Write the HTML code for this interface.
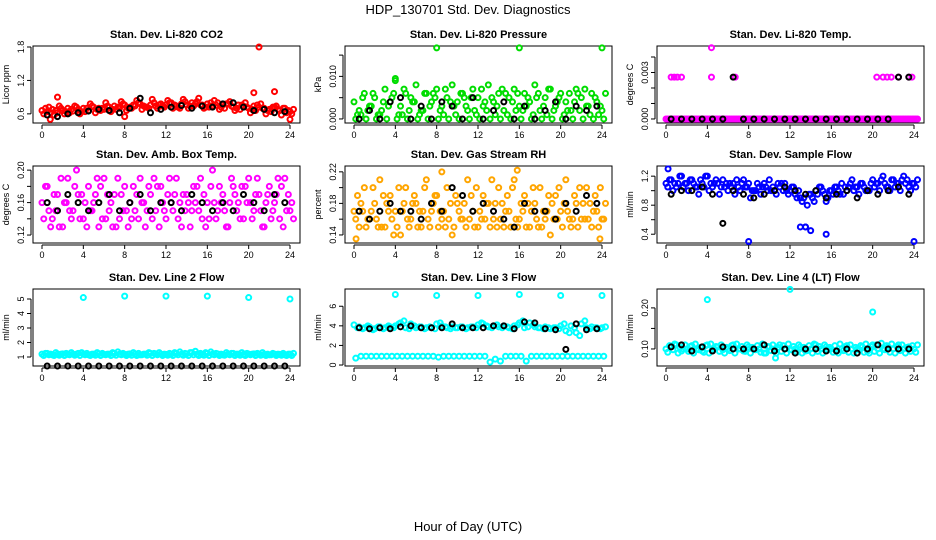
<!DOCTYPE html>
<html><head><meta charset="utf-8"><style>
body{margin:0;background:#fff}
svg{display:block;font-family:"Liberation Sans",Arial,sans-serif}
</style></head><body>
<svg id="chart" width="936" height="540" viewBox="0 0 936 540" xmlns="http://www.w3.org/2000/svg">
<rect width="936" height="540" fill="#fff"/>
<text x="468" y="14" text-anchor="middle" font-size="13">HDP_130701  Std. Dev. Diagnostics</text>
<text x="468" y="531" text-anchor="middle" font-size="13">Hour of Day (UTC)</text>
<g id="panels"></g>
</svg>
<script>
const xTicks = [0,4,8,12,16,20,24];
// Panel 1: CO2
const co2A = [0.66,0.64,0.68,0.62,0.66,0.7,0.65,0.68,0.7,0.66,0.72,0.7,0.68,0.72,0.74,0.7,0.76,0.72,0.74,0.78,0.72,0.76,0.74,0.78,0.76,0.8,0.74,0.78,0.76,0.8,0.82,0.76,0.78,0.74,0.8,0.76,0.78,0.72,0.76,0.74,0.7,0.74,0.72,0.7,0.68,0.72,0.66,0.7,0.64];
const co2B = [0.6,0.72,0.58,0.74,0.6,0.62,0.74,0.6,0.64,0.78,0.62,0.66,0.8,0.64,0.68,0.82,0.66,0.7,0.84,0.68,0.72,0.86,0.7,0.74,0.84,0.7,0.72,0.86,0.7,0.74,0.88,0.7,0.72,0.84,0.68,0.7,0.82,0.66,0.68,0.8,0.62,0.66,0.78,0.6,0.64,0.74,0.58,0.62,0.6];
const co2C = [0.7,0.62,0.66,0.7,0.64,0.68,0.72,0.64,0.7,0.74,0.68,0.7,0.74,0.68,0.72,0.78,0.7,0.76,0.8,0.74,0.7,0.8,0.76,0.72,0.8,0.76,0.7,0.82,0.74,0.78,0.76,0.72,0.8,0.76,0.72,0.78,0.74,0.7,0.76,0.72,0.68,0.76,0.7,0.66,0.72,0.68,0.7,0.66,0.68];
const co2OutH = [1.5,21,20.5,22.5,0.8,24,8];
const co2OutV = [0.9,1.8,0.98,1.0,0.5,0.5,0.55];
const co2Black = [0.58,0.55,0.6,0.62,0.65,0.68,0.66,0.62,0.7,0.88,0.62,0.68,0.72,0.75,0.7,0.74,0.72,0.78,0.8,0.72,0.66,0.68,0.62,0.64];
// Panel 2: pressure
const presA = [0.004,0.002,0.006,0.003,0.005,0.001,0.007,0.004,0.009,0.003,0.006,0.005,0.008,0.002,0.006,0.004,0.007,0.003,0.005,0.008,0.004,0.006,0.002,0.007,0.005,0.003,0.008,0.004,0.006,0.002,0.005,0.007,0.003,0.006,0.004,0.008,0.002,0.005,0.007,0.003,0.006,0.004,0.002,0.007,0.005,0.003,0.006,0.004,0.002];
const presB = [0,0.001,0,0.003,0,0.002,0,0.005,0,0.001,0,0.004,0,0.002,0,0.006,0,0.001,0,0.003,0,0.005,0,0.002,0,0.004,0,0.001,0,0.006,0,0.002,0,0.003,0,0.005,0,0.001,0,0.004,0,0.002,0,0.006,0,0.003,0,0.001,0];
const presC = [0.001,0.005,0.002,0.006,0.001,0.004,0.003,0.006,0.001,0.007,0.002,0.004,0.001,0.006,0.003,0.005,0.002,0.007,0.004,0.001,0.006,0.003,0.005,0.001,0.007,0.002,0.005,0.003,0.007,0.001,0.004,0.006,0.002,0.005,0.001,0.006,0.003,0.007,0.002,0.005,0.001,0.006,0.004,0.002,0.007,0.001,0.005,0.003,0.006];
const presOutH = [8,16,24,4];
const presOutV = [0.0167,0.0167,0.0167,0.0095];
const presBlack = [0,0.002,0,0.004,0.005,0,0.003,0,0.004,0.003,0,0.005,0,0.002,0.004,0,0.003,0,0.002,0.004,0,0.003,0.002,0.003];
// Panel 3: Li-820 temp
const tempA = [0,0,0,0,0,0,0,0,0,0,0,0,0,0,0,0,0,0,0,0,0,0,0,0,0,0,0,0,0,0,0,0,0,0,0,0,0,0,0,0,0,0,0,0,0,0,0,0,0];
const tempB = [0,0,0,0,0,0,0,0,0,0,0,0,0,0,0,0,0,0,0,0,0,0,0,0,0,0,0,0,0,0,0,0,0,0,0,0,0,0,0,0,0,0,0,0,0,0,0,0,0];
const tempC = [0,0,0,0,0,0,0,0,0,0,0,0,0,0,0,0,0,0,0,0,0,0,0,0,0,0,0,0,0,0,0,0,0,0,0,0,0,0,0,0,0,0,0,0,0,0,0,0,0];
const tempOutH = [0.5,0.8,1.1,1.5,4.4,4.4,6.7,20.4,21,21.4,21.8,22.5,23.5,23.8];
const tempOutV = [0.0027,0.0027,0.0027,0.0027,0.0027,0.0046,0.0027,0.0027,0.0027,0.0027,0.0027,0.0027,0.0027,0.0027];
const tempBlack = [0,0,0,0,0,0,0.0027,0,0,0,0,0,0,0,0,0,0,0,0,0,0,0,0.0027,0.0027];
// Panel 4: amb box temp
const ambA = [0.16,0.18,0.14,0.17,0.13,0.19,0.15,0.17,0.14,0.18,0.16,0.13,0.19,0.15,0.17,0.14,0.18,0.16,0.15,0.19,0.13,0.17,0.15,0.18,0.14,0.16,0.19,0.13,0.17,0.15,0.18,0.14,0.16,0.2,0.15,0.17,0.13,0.18,0.16,0.14,0.19,0.15,0.17,0.13,0.18,0.16,0.14,0.19,0.15];
const ambB = [0.14,0.15,0.17,0.13,0.16,0.15,0.18,0.14,0.16,0.15,0.17,0.18,0.14,0.16,0.13,0.17,0.15,0.14,0.17,0.16,0.15,0.14,0.18,0.16,0.17,0.15,0.14,0.17,0.16,0.18,0.15,0.17,0.14,0.16,0.18,0.15,0.16,0.17,0.14,0.18,0.16,0.17,0.15,0.16,0.14,0.17,0.18,0.15,0.16];
const ambC = [0.18,0.13,0.15,0.19,0.16,0.14,0.2,0.17,0.13,0.15,0.19,0.14,0.17,0.13,0.19,0.15,0.13,0.18,0.14,0.16,0.18,0.19,0.13,0.15,0.19,0.17,0.16,0.15,0.13,0.16,0.19,0.13,0.18,0.14,0.16,0.13,0.19,0.15,0.18,0.16,0.14,0.19,0.13,0.17,0.15,0.19,0.13,0.17,0.14];
const ambOutH = [];
const ambOutV = [];
const ambBlack = [0.16,0.15,0.17,0.16,0.15,0.16,0.17,0.15,0.16,0.17,0.15,0.16,0.16,0.15,0.17,0.16,0.15,0.16,0.15,0.17,0.16,0.15,0.17,0.16];
// Panel 5: gas stream RH
const rhA = [0.17,0.15,0.2,0.16,0.18,0.21,0.15,0.19,0.17,0.14,0.2,0.16,0.18,0.15,0.21,0.17,0.19,0.16,0.2,0.14,0.18,0.16,0.21,0.17,0.15,0.19,0.18,0.16,0.2,0.15,0.17,0.21,0.16,0.19,0.15,0.18,0.2,0.16,0.14,0.19,0.17,0.21,0.15,0.18,0.16,0.2,0.15,0.17,0.16];
const rhB = [0.16,0.18,0.15,0.17,0.16,0.15,0.18,0.16,0.15,0.17,0.16,0.18,0.15,0.17,0.16,0.18,0.15,0.17,0.16,0.15,0.17,0.18,0.16,0.15,0.17,0.16,0.15,0.18,0.16,0.17,0.15,0.16,0.18,0.15,0.17,0.16,0.15,0.17,0.18,0.16,0.15,0.17,0.16,0.15,0.18,0.16,0.17,0.15,0.16];
const rhC = [0.19,0.17,0.16,0.2,0.15,0.19,0.17,0.14,0.2,0.18,0.15,0.19,0.17,0.2,0.15,0.19,0.17,0.15,0.18,0.19,0.16,0.15,0.19,0.2,0.16,0.18,0.21,0.15,0.18,0.19,0.2,0.15,0.17,0.18,0.2,0.15,0.17,0.19,0.16,0.2,0.18,0.16,0.19,0.2,0.16,0.18,0.19,0.2,0.18];
const rhOutH = [0.2,8.5,15.8,23.8];
const rhOutV = [0.135,0.22,0.222,0.135];
const rhBlack = [0.17,0.16,0.17,0.18,0.17,0.17,0.16,0.18,0.17,0.2,0.19,0.17,0.18,0.17,0.16,0.15,0.18,0.17,0.17,0.16,0.18,0.17,0.19,0.18];
// Panel 6: sample flow
const sfA = [1.1,1.15,1.05,1.2,1.1,1.15,1.05,1.1,1.2,1.05,1.1,1.15,1.0,1.1,1.05,1.15,1.1,1.0,1.05,1.1,1.15,1.0,1.05,1.1,1.0,0.95,0.9,0.5,0.95,1.0,1.05,0.85,1.0,1.05,1.1,1.0,1.15,1.05,1.1,1.0,1.15,1.1,1.2,1.05,1.15,1.1,1.2,1.05,1.1];
const sfB = [1.05,1.0,1.1,1.05,1.0,1.1,0.95,1.05,1.0,1.1,0.95,1.05,1.1,0.95,1.0,1.05,0.9,1.0,0.95,1.05,1.0,0.95,1.1,1.0,1.05,0.9,0.85,0.8,0.9,0.95,1.0,0.9,0.95,1.0,0.95,1.05,1.0,0.95,1.05,1.0,1.05,1.0,1.1,1.0,1.05,1.0,1.1,1.0,1.05];
const sfC = [1.15,1.1,1.2,1.1,1.15,1.05,1.15,1.2,1.1,1.15,1.05,1.1,1.05,1.15,1.1,1.05,1.0,1.1,1.05,1.0,1.05,1.1,1.0,0.95,1.05,1.0,0.9,0.95,0.85,1.05,0.95,1.0,1.05,0.95,1.05,1.1,1.05,1.1,1.0,1.1,1.1,1.15,1.05,1.15,1.1,1.15,1.15,1.1,1.15];
const sfOutH = [0.2,8,24,13.5,14,15.5,13];
const sfOutV = [1.3,0.3,0.3,0.5,0.45,0.4,0.5];
const sfBlack = [0.95,1.0,1.0,1.05,0.95,0.55,1.0,0.95,0.9,0.95,1.0,1.05,1.0,0.95,1.0,0.9,0.95,1.0,0.9,1.0,0.95,1.0,1.05,0.95];
// Panel 7: line 2 flow
const l2A = [1.2,1.25,1.15,1.2,1.22,1.18,1.2,1.25,1.2,1.15,1.2,1.22,1.18,1.2,1.25,1.2,1.18,1.22,1.2,1.15,1.2,1.25,1.22,1.2,1.18,1.2,1.25,1.2,1.22,1.3,1.2,1.18,1.25,1.2,1.22,1.15,1.2,1.25,1.2,1.18,1.2,1.22,1.2,1.18,1.15,1.2,1.18,1.15,1.2];
const l2B = [1.1,1.15,1.1,1.12,1.1,1.15,1.12,1.1,1.15,1.1,1.12,1.1,1.15,1.1,1.12,1.15,1.1,1.12,1.1,1.15,1.12,1.1,1.15,1.1,1.12,1.1,1.15,1.12,1.1,1.15,1.1,1.12,1.1,1.15,1.1,1.12,1.15,1.1,1.12,1.1,1.15,1.1,1.12,1.1,1.15,1.1,1.12,1.1,1.1];
const l2C = [1.25,1.2,1.3,1.2,1.25,1.3,1.2,1.3,1.25,1.2,1.3,1.25,1.2,1.3,1.35,1.25,1.2,1.3,1.25,1.2,1.3,1.25,1.3,1.2,1.25,1.3,1.35,1.25,1.3,1.4,1.25,1.3,1.35,1.25,1.2,1.3,1.25,1.2,1.3,1.25,1.2,1.25,1.3,1.2,1.25,1.2,1.25,1.2,1.25];
const l2OutH = [4,8,12,16,20,24];
const l2OutV = [5.1,5.2,5.2,5.2,5.1,5.0];
const l2Black = [0.38,0.38,0.38,0.38,0.38,0.38,0.38,0.38,0.38,0.38,0.38,0.38,0.38,0.38,0.38,0.38,0.38,0.38,0.38,0.38,0.38,0.38,0.38,0.38];
// Panel 8: line 3 flow
const l3A = [4.1,3.9,3.8,3.9,3.7,3.9,3.8,3.9,4.0,4.3,3.8,4.2,3.8,3.9,3.8,3.8,4.2,4.0,3.8,3.9,3.8,3.9,3.8,3.9,4.1,4.2,3.9,4.0,3.9,4.0,3.8,4.0,4.3,3.8,4.3,3.9,3.8,3.9,3.7,3.8,4.0,3.5,4.0,3.3,4.2,3.8,3.9,3.8,3.8];
const l3B = [0.7,0.9,0.9,0.9,0.9,0.9,0.9,0.9,0.9,0.9,0.9,0.9,0.9,0.9,0.9,0.9,0.8,0.9,0.9,0.9,0.9,0.9,0.9,0.9,0.9,0.9,0.3,0.6,0.4,0.9,0.9,0.9,0.9,0.4,0.9,0.9,0.9,0.9,0.9,0.9,0.9,0.9,0.9,0.9,0.9,0.9,0.9,0.9,0.9];
const l3C = [3.8,3.7,4.0,3.6,3.9,3.7,4.0,3.8,4.2,4.5,3.7,4.0,3.9,3.7,3.9,3.7,4.3,3.9,3.7,3.8,3.9,3.7,3.9,3.8,4.3,4.0,3.8,4.1,3.8,3.9,3.7,4.1,4.5,3.9,4.1,3.8,3.7,3.8,3.8,3.7,4.2,3.3,3.8,3.0,4.5,3.7,3.8,3.7,3.9];
const l3OutH = [4,8,12,16,20,24];
const l3OutV = [7.2,7.1,7.1,7.2,7.1,7.1];
const l3Black = [3.8,3.7,3.8,3.7,3.9,4.0,3.8,3.8,3.8,4.2,3.8,3.8,3.8,4.0,4.0,3.7,4.4,4.3,3.7,3.6,1.6,4.2,3.6,3.7];
// Panel 9: line 4 flow
const l4A = [0.1,0.105,0.11,0.095,0.1,0.108,0.1,0.095,0.11,0.1,0.105,0.098,0.1,0.11,0.1,0.095,0.105,0.1,0.1,0.09,0.105,0.1,0.11,0.1,0.098,0.1,0.105,0.095,0.1,0.11,0.1,0.105,0.1,0.095,0.1,0.108,0.1,0.1,0.105,0.095,0.11,0.1,0.1,0.105,0.1,0.11,0.1,0.105,0.1];
const l4B = [0.092,0.098,0.09,0.1,0.094,0.09,0.098,0.092,0.09,0.1,0.094,0.09,0.096,0.09,0.1,0.094,0.09,0.098,0.092,0.09,0.096,0.09,0.094,0.09,0.098,0.092,0.09,0.096,0.09,0.094,0.09,0.098,0.092,0.09,0.096,0.092,0.09,0.098,0.092,0.09,0.094,0.09,0.098,0.092,0.09,0.096,0.09,0.094,0.092];
const l4C = [0.108,0.112,0.104,0.11,0.106,0.112,0.104,0.108,0.112,0.106,0.11,0.104,0.108,0.112,0.106,0.11,0.104,0.108,0.112,0.106,0.11,0.104,0.108,0.112,0.106,0.11,0.104,0.108,0.112,0.106,0.11,0.104,0.108,0.112,0.106,0.11,0.104,0.108,0.112,0.106,0.11,0.114,0.108,0.112,0.106,0.11,0.104,0.108,0.11];
const l4OutH = [4,12,20,10.6];
const l4OutV = [0.22,0.245,0.19,0.078];
const l4Black = [0.105,0.11,0.095,0.105,0.095,0.105,0.1,0.1,0.1,0.11,0.095,0.1,0.09,0.1,0.1,0.095,0.095,0.1,0.09,0.1,0.11,0.1,0.1,0.1];

const panels = [
 {name:'co2',title:'Stan. Dev. Li-820 CO2',ylab:'Licor ppm',col:'#ff0000',S:[co2A,co2B,co2C],oh:co2OutH,ov:co2OutV,K:co2Black,bx:33,by:46,ylo:0.436,yhi:1.818,ticks:[0.6,1.2,1.8],labels:['0.6','1.2','1.8']},
 {name:'pressure',title:'Stan. Dev. Li-820 Pressure',ylab:'kPa',col:'#00dd00',S:[presA,presB,presC],oh:presOutH,ov:presOutV,K:presBlack,bx:345,by:46,ylo:-0.00095,yhi:0.01714,ticks:[0,0.005,0.01,0.015],labels:['0.000','','0.010','']},
 {name:'li820-temp',title:'Stan. Dev. Li-820 Temp.',ylab:'degrees C',col:'#ff00ff',S:[tempA,tempB,tempC],oh:tempOutH,ov:tempOutV,K:tempBlack,bx:657,by:46,ylo:-0.00026,yhi:0.00471,ticks:[0,0.001,0.002,0.003,0.004],labels:['0.000','','','0.003','']},
 {name:'amb-box-temp',title:'Stan. Dev. Amb. Box Temp.',ylab:'degrees C',col:'#ff00ff',S:[ambA,ambB,ambC],oh:ambOutH,ov:ambOutV,K:ambBlack,bx:33,by:166,ylo:0.1102,yhi:0.2051,ticks:[0.12,0.14,0.16,0.18,0.2],labels:['0.12','','0.16','','0.20']},
 {name:'gas-stream-rh',title:'Stan. Dev. Gas Stream RH',ylab:'percent',col:'#ffa500',S:[rhA,rhB,rhC],oh:rhOutH,ov:rhOutV,K:rhBlack,bx:345,by:166,ylo:0.1298,yhi:0.2274,ticks:[0.14,0.16,0.18,0.2,0.22],labels:['0.14','','0.18','','0.22']},
 {name:'sample-flow',title:'Stan. Dev. Sample Flow',ylab:'ml/min',col:'#0000ff',S:[sfA,sfB,sfC],oh:sfOutH,ov:sfOutV,K:sfBlack,bx:657,by:166,ylo:0.279,yhi:1.34,ticks:[0.4,0.6,0.8,1.0,1.2],labels:['0.4','','0.8','','1.2']},
 {name:'line2-flow',title:'Stan. Dev. Line 2 Flow',ylab:'ml/min',col:'#00ffff',S:[l2A,l2B,l2C],oh:l2OutH,ov:l2OutV,K:l2Black,bx:33,by:289,ylo:0.38,yhi:5.69,ticks:[1,2,3,4,5],labels:['1','2','3','4','5']},
 {name:'line3-flow',title:'Stan. Dev. Line 3 Flow',ylab:'ml/min',col:'#00ffff',S:[l3A,l3B,l3C],oh:l3OutH,ov:l3OutV,K:l3Black,bx:345,by:289,ylo:-0.1,yhi:7.76,ticks:[0,2,4,6],labels:['0','2','4','6']},
 {name:'line4-flow',title:'Stan. Dev. Line 4 (LT) Flow',ylab:'ml/min',col:'#00ffff',S:[l4A,l4B,l4C],oh:l4OutH,ov:l4OutV,K:l4Black,bx:657,by:289,ylo:0.0585,yhi:0.246,ticks:[0.1,0.15,0.2],labels:['0.10','','0.20']}
];
const NS='http://www.w3.org/2000/svg';
const root=document.getElementById('panels');
function mk(tag,attrs,parent){const e=document.createElementNS(NS,tag);for(const k in attrs)e.setAttribute(k,attrs[k]);parent.appendChild(e);return e;}
const W=267,H=77;
panels.forEach(p=>{
 const g=mk('g',{},root);
 
 
 const xs=h=>p.bx+9+h*(248/24);
 const ys=v=>p.by+H-(v-p.ylo)/(p.yhi-p.ylo)*H;
 const t=mk('text',{x:p.bx+W/2,y:p.by-8,'text-anchor':'middle','font-size':'11','font-weight':'bold'},g);
 t.textContent=p.title;
 
 
 const box=mk('rect',{x:p.bx,y:p.by,width:W,height:H,fill:'none',stroke:'#000','stroke-width':1},g);
 
 
 const xa=mk('g',{},g);
 
 
 mk('line',{x1:xs(0),x2:xs(24),y1:p.by+H+2,y2:p.by+H+2,stroke:'#000'},xa);
 xTicks.forEach(h=>{
  mk('line',{x1:xs(h),x2:xs(h),y1:p.by+H+2,y2:p.by+H+6,stroke:'#000'},xa);
  const l=mk('text',{x:xs(h),y:p.by+H+15,'text-anchor':'middle','font-size':'9'},xa);
  l.textContent=h;
  
  
 });
 const ya=mk('g',{},g);
 
 
 mk('line',{x1:p.bx-2,x2:p.bx-2,y1:ys(p.ticks[0]),y2:ys(p.ticks[p.ticks.length-1]),stroke:'#000'},ya);
 p.ticks.forEach((v,i)=>{
  const y=ys(v);
  mk('line',{x1:p.bx-6,x2:p.bx-2,y1:y,y2:y,stroke:'#000'},ya);
  if(p.labels[i]){
   const l=mk('text',{x:p.bx-9,y:y,'text-anchor':'middle','font-size':'9',transform:`rotate(-90 ${p.bx-9} ${y})`},ya);
   l.textContent=p.labels[i];
   
   
  }
 });
 const yl=mk('text',{x:p.bx-24,y:p.by+H/2,'text-anchor':'middle','font-size':'9',transform:`rotate(-90 ${p.bx-24} ${p.by+H/2})`},g);
 yl.textContent=p.ylab;
 
 
 const pts=mk('g',{fill:'none','stroke-width':2},g);
 
 
 const dot=(h,v,c,nm)=>{const c1=mk('circle',{cx:xs(h),cy:ys(v),r:2.5,stroke:c},pts);
  
  };
 p.S.forEach((arr,k)=>arr.forEach((v,i)=>dot(i*0.5+k*0.17,v,p.col,'colored-point')));
 p.oh.forEach((h,i)=>dot(h,p.ov[i],p.col,'outlier-point'));
 p.K.forEach((v,i)=>dot(i+0.5,v,'#000','hourly-point'));
});
</script>
</body></html>
